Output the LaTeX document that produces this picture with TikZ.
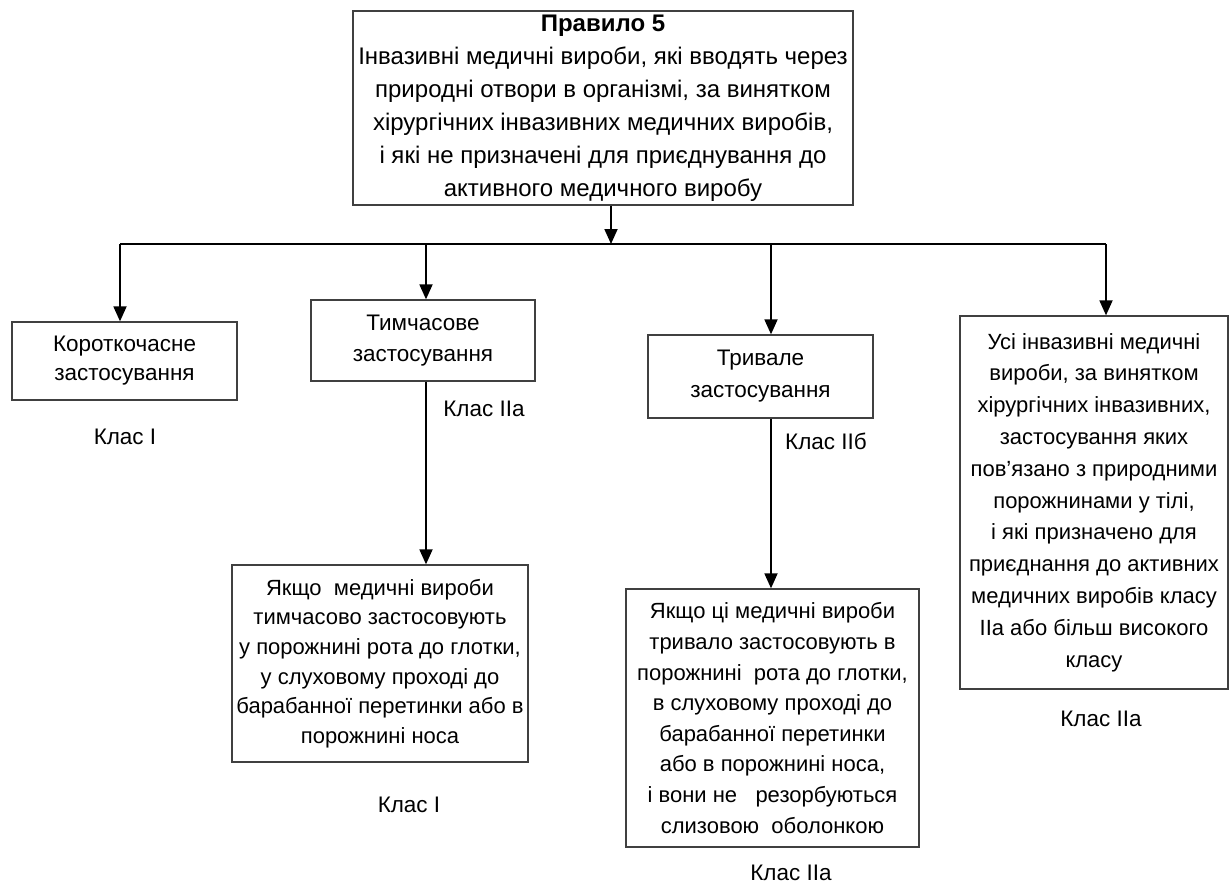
\documentclass[tikz,border=0pt]{standalone}
\usepackage{fontspec}
\setmainfont{Liberation Sans}
\usetikzlibrary{arrows.meta}
\begin{document}
\begin{tikzpicture}[x=1pt,y=-1pt,
  box/.style={draw=black!75, line width=1.3pt, align=center, inner sep=0pt, font=\fontsize{22}{31}\selectfont},
  lbl/.style={inner sep=0pt, font=\fontsize{22.5}{31}\selectfont},
  arr/.style={line width=1.8pt, -{Triangle[length=15pt,width=13pt]}},
  ln/.style={line width=1.4pt}]
\useasboundingbox (0,0) rectangle (1229,887);
\node[box, minimum width=500pt, minimum height=194pt, font=\fontsize{24}{33}\selectfont] (top) at (603,108)
  {\textbf{Правило 5}\\Інвазивні медичні вироби, які вводять через\\природні отвори в організмі, за винятком\\хірургічних інвазивних медичних виробів,\\і які не призначені для приєднування до\\активного медичного виробу};
\node[box, minimum width=225pt, minimum height=78pt, font=\fontsize{22.5}{29}\selectfont] (b1) at (124.5,361) {Короткочасне\\застосування};
\node[box, minimum width=224pt, minimum height=81pt, font=\fontsize{22.5}{31}\selectfont] (b2) at (423,340.5) {Тимчасове\\застосування};
\node[box, minimum width=225pt, minimum height=83pt, font=\fontsize{22.5}{32}\selectfont] (b3) at (760.5,376.5) {Тривале\\застосування};
\node[box, minimum width=268pt, minimum height=373pt, font=\fontsize{22}{31.8}\selectfont] (b4) at (1094,502.5)
  {Усі інвазивні медичні\\вироби, за винятком\\хірургічних інвазивних,\\застосування яких\\пов’язано з природними\\порожнинами у тілі,\\і які призначено для\\приєднання до активних\\медичних виробів класу\\IIа або більш високого\\класу};
\node[box, minimum width=296pt, minimum height=197pt, font=\fontsize{22}{29.6}\selectfont] (b5) at (380,663.5)
  {Якщо\ \ медичні вироби\\тимчасово застосовують\\у порожнині рота до глотки,\\у слуховому проході до\\барабанної перетинки або в\\порожнині носа};
\node[box, minimum width=293pt, minimum height=258pt, font=\fontsize{22}{30.6}\selectfont] (b6) at (772.5,718)
  {Якщо ці медичні вироби\\тривало застосовують в\\порожнині\ \ рота до глотки,\\в слуховому проході до\\барабанної перетинки\\або в порожнині носа,\\і вони не\ \ \ резорбуються\\слизовою\ \ оболонкою};
\node[lbl] (l1) at (125,437) {Клас I};
\node[lbl] (l2) at (484,409) {Клас IIа};
\node[lbl] (l3) at (826,441) {Клас IIб};
\node[lbl] (l4) at (1101,719) {Клас IIа};
\node[lbl] (l5) at (409,805) {Клас I};
\node[lbl] (l6) at (791,873) {Клас IIа};
\coordinate (hub) at (611,244);
\coordinate (h1) at (120,244);
\coordinate (h2) at (426,244);
\coordinate (h3) at (771,244);
\coordinate (h4) at (1106,244);
\draw[arr] (top.south -| hub) -- (hub);
\draw[ln] (h1) -- (h4);
\draw[arr] (h1) -- (h1 |- b1.north);
\draw[arr] (h2) -- (h2 |- b2.north);
\draw[arr] (h3) -- (h3 |- b3.north);
\draw[arr] (h4) -- (h4 |- b4.north);
\draw[arr] (b2.south -| h2) -- (b5.north -| h2);
\draw[arr] (b3.south -| h3) -- (b6.north -| h3);
\end{tikzpicture}
\end{document}
